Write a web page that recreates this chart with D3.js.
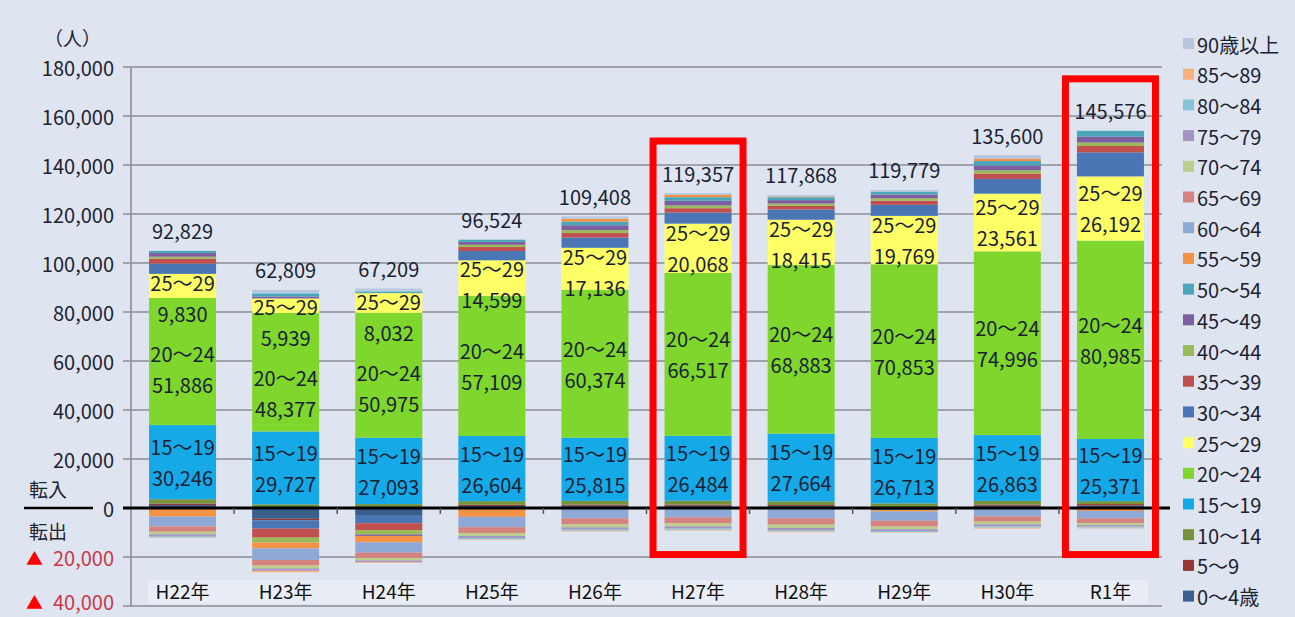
<!DOCTYPE html>
<html>
<head>
<meta charset="utf-8">
<script src="https://cdn.jsdelivr.net/npm/d3@7"></script>
<style>
    body { margin: 0; background: #dfe5f0; }
    svg { display: block; font-family: "Noto Sans CJK JP", "Noto Sans", sans-serif; }
</style>
</head>
<body>
<svg width="1295" height="617"></svg>
<script>
// years on the x axis
const years = ['H22年', 'H23年', 'H24年', 'H25年', 'H26年', 'H27年', 'H28年', 'H29年', 'H30年', 'R1年'];

// net migration per age group (転入超過 +, 転出超過 -)
const age0_4   = [1200, -4400, -3200, 800, 900, 900, 800, -800, 900, 1000];
const age5_9   = [600, -600, 400, 500, 500, 500, 400, 400, 500, 600];
const age10_14 = [1800, 1500, 1200, 1500, 1500, 1600, 1500, 1500, 1500, 1200];
const age15_19 = [30246, 29727, 27093, 26604, 25815, 26484, 27664, 26713, 26863, 25371];
const age20_24 = [51886, 48377, 50975, 57109, 60374, 66517, 68883, 70853, 74996, 80985];
const age25_29 = [9830, 5939, 8032, 14599, 17136, 20068, 18415, 19769, 23561, 26192];
const age30_34 = [4200, -3400, -3000, 3800, 4200, 4500, 4200, 4500, 6000, 9800];
const age35_39 = [2000, -3700, -2800, 1600, 1800, 1800, 1500, 1700, 2200, 2600];
const age40_44 = [800, -2000, -1800, 900, 1200, 1100, 900, 1000, 1300, 1400];
const age45_49 = [1500, 800, -600, 1200, 2000, 1900, 1400, 1500, 2000, 2400];
const age50_54 = [900, 1000, 600, 900, 1500, 1500, 1200, 1200, 1800, 2400];
const age55_59 = [-3500, -2400, -2600, -3600, 1100, 900, 300, -600, 900, -1200];
const age60_64 = [-4000, -4700, -4200, -4200, -4200, -3800, -4200, -3800, -3400, -3000];
const age65_69 = [-2200, -2300, -2200, -2400, -2500, -2500, -2600, -2400, -2200, -2000];
const age70_74 = [-1000, -1200, -1000, -1200, -1200, -1200, -1300, -1100, -1100, -800];
const age75_79 = [-700, -900, -700, -800, -900, -900, -900, -700, -800, -600];
const age80_84 = [-400, 500, 400, -450, -500, -500, -550, -400, -500, -400];
const age85_89 = [-250, -600, -300, -250, -300, -300, -350, -200, -400, -300];
const age90up  = [-150, 1200, 900, -100, 1000, 800, 600, 700, 1500, -100];

// net totals printed above each bar
const netTotals = [92829, 62809, 67209, 96524, 109408, 119357, 117868, 119779, 135600, 145576];

const ageNames = ['0～4歳', '5～9', '10～14', '15～19', '20～24', '25～29', '30～34', '35～39', '40～44',
    '45～49', '50～54', '55～59', '60～64', '65～69', '70～74', '75～79', '80～84', '85～89', '90歳以上'];
const ageValues = [age0_4, age5_9, age10_14, age15_19, age20_24, age25_29, age30_34, age35_39, age40_44,
    age45_49, age50_54, age55_59, age60_64, age65_69, age70_74, age75_79, age80_84, age85_89, age90up];
const ageColors = ['#3b5f8c', '#953735', '#77923c', '#16a9e8', '#7fd62c', '#ffff66', '#4a76b6', '#c0504d',
    '#9bbb59', '#7d5fa0', '#4aa6b8', '#f39244', '#8fa9d6', '#d4837f', '#bccf8a', '#a293c0', '#85c3d9',
    '#f8b07c', '#b8c6de'];

const highlighted = ['H27年', 'R1年'];

const svg = d3.select("svg");
const fmt = d3.format(",");

// table for d3.stack
const table = years.map((yr, i) => {
    const row = { year: yr };
    ageNames.forEach((name, k) => { row[name] = ageValues[k][i]; });
    return row;
});

const series = d3.stack()
    .keys(ageNames)
    .offset(d3.stackOffsetDiverging)(table);

const x = d3.scaleBand()
    .domain(years)
    .range([131, 1162])
    .paddingInner(0.35)
    .paddingOuter(0.175);

const y = d3.scaleLinear()
    .domain([-40000, 180000])
    .range([606, 67]);

const color = d3.scaleOrdinal().domain(ageNames).range(ageColors);
const gridTicks = d3.range(-40000, 180001, 20000);

// gridlines
svg.append("g").selectAll("line").data(gridTicks.filter(v => v !== 0)).enter()
    .append("line")
    .attr("x1", 123).attr("x2", 1162)
    .attr("y1", d => y(d)).attr("y2", d => y(d))
    .attr("stroke", "#8a8d96").attr("stroke-width", 1.6);

// y axis line
svg.append("line")
    .attr("x1", 131).attr("x2", 131)
    .attr("y1", y(180000)).attr("y2", y(-40000))
    .attr("stroke", "#8a8d96").attr("stroke-width", 1.6);

// category label strip
svg.append("rect")
    .attr("x", 148).attr("y", y(-29500))
    .attr("width", 1000).attr("height", y(-39000) - y(-29500))
    .attr("fill", "#e9edf5");

// bars
const layers = svg.append("g").selectAll("g").data(series).enter()
    .append("g").attr("fill", d => color(d.key));

layers.selectAll("rect").data(d => d).enter()
    .append("rect")
    .attr("x", d => x(d.data.year))
    .attr("width", x.bandwidth())
    .attr("y", d => y(Math.max(d[0], d[1])))
    .attr("height", d => Math.abs(y(d[0]) - y(d[1])));

// zero line
svg.append("line")
    .attr("x1", 123).attr("x2", 1170)
    .attr("y1", y(0)).attr("y2", y(0))
    .attr("stroke", "#000").attr("stroke-width", 3);

// category ticks on the zero line
svg.append("g").selectAll("line").data(years.slice(1)).enter()
    .append("line")
    .attr("x1", d => x(d) - x.step() * x.paddingInner() / 2)
    .attr("x2", d => x(d) - x.step() * x.paddingInner() / 2)
    .attr("y1", y(0)).attr("y2", y(0) + 6)
    .attr("stroke", "#555").attr("stroke-width", 1.5);

// y tick labels
const yLabels = svg.append("g").selectAll("text").data(gridTicks).enter()
    .append("text")
    .attr("x", 114)
    .attr("y", d => Math.min(y(d), 601))
    .attr("text-anchor", "end")
    .attr("dominant-baseline", "central")
    .attr("font-size", 20)
    .attr("fill", "#1e2230");

yLabels.filter(d => d >= 0).text(d => fmt(d));
yLabels.filter(d => d < 0).each(function (d) {
    const t = d3.select(this);
    t.append("tspan").attr("fill", "#ff0000").attr("font-size", 17).text("▲");
    t.append("tspan").attr("dx", 10).attr("fill", "#c8384a").text(fmt(-d));
});

// unit and 転入 / 転出
svg.append("text").attr("x", 44).attr("y", 37)
    .attr("dominant-baseline", "central").attr("font-size", 19).attr("fill", "#1e2230")
    .text("（人）");
svg.append("text").attr("x", 48).attr("y", y(0) - 20)
    .attr("text-anchor", "middle").attr("dominant-baseline", "central")
    .attr("font-size", 19).attr("fill", "#1e2230").text("転入");
svg.append("text").attr("x", 48).attr("y", y(0) + 22)
    .attr("text-anchor", "middle").attr("dominant-baseline", "central")
    .attr("font-size", 19).attr("fill", "#1e2230").text("転出");
svg.append("line")
    .attr("x1", 24).attr("x2", 93)
    .attr("y1", y(0)).attr("y2", y(0))
    .attr("stroke", "#000").attr("stroke-width", 2.5);

// category labels
svg.append("g").selectAll("text").data(years).enter()
    .append("text")
    .attr("x", d => x(d) + x.bandwidth() / 2)
    .attr("y", y(-33500))
    .attr("text-anchor", "middle")
    .attr("dominant-baseline", "central")
    .attr("font-size", 19)
    .attr("fill", "#111")
    .text(d => d);

// data labels inside the bars (15-19, 20-24, 25-29)
const segOf = name => series.find(s => s.key === name);
const s15 = segOf('15～19'), s20 = segOf('20～24'), s25 = segOf('25～29');
const labelData = [];
years.forEach((yr, i) => {
    const top25 = y(s25[i][1]), bot25 = y(s25[i][0]);
    const c25 = Math.max((top25 + bot25) / 2, top25 + 24);
    const c20 = Math.max((y(s20[i][1]) + y(s20[i][0])) / 2, c25 + 71);
    const c15 = (y(s15[i][1]) + y(s15[i][0])) / 2;
    labelData.push({ year: yr, cy: c25, name: '25～29', value: age25_29[i] });
    labelData.push({ year: yr, cy: c20, name: '20～24', value: age20_24[i] });
    labelData.push({ year: yr, cy: c15, name: '15～19', value: age15_19[i] });
});

const lbl = svg.append("g").selectAll("g").data(labelData).enter().append("g")
    .attr("transform", d => `translate(${x(d.year) + x.bandwidth() / 2},${d.cy})`);
lbl.append("text").attr("y", -15.5)
    .attr("text-anchor", "middle").attr("dominant-baseline", "central")
    .attr("font-size", 20).attr("fill", "#1a1f33")
    .text(d => d.name);
lbl.append("text").attr("y", 15.5)
    .attr("text-anchor", "middle").attr("dominant-baseline", "central")
    .attr("font-size", 20).attr("fill", "#1a1f33")
    .text(d => fmt(d.value));

// net totals above the bars
const topOf = i => d3.max(series, s => s[i][1]);
svg.append("g").selectAll("text").data(years).enter()
    .append("text")
    .attr("x", d => x(d) + x.bandwidth() / 2)
    .attr("y", (d, i) => y(topOf(i)) - 20)
    .attr("text-anchor", "middle")
    .attr("dominant-baseline", "central")
    .attr("font-size", 20)
    .attr("fill", "#1a1f33")
    .text((d, i) => fmt(netTotals[i]));

// red highlight boxes
svg.append("g").selectAll("rect").data(highlighted).enter()
    .append("rect")
    .attr("x", d => x(d) + x.bandwidth() / 2 - 45)
    .attr("width", 90)
    .attr("y", d => y(topOf(years.indexOf(d))) - 52)
    .attr("height", d => y(-19000) - y(topOf(years.indexOf(d))) + 52)
    .attr("fill", "none")
    .attr("stroke", "#ff0000")
    .attr("stroke-width", 7);

// legend (top series first)
const legend = svg.append("g").selectAll("g").data(ageNames.slice().reverse()).enter()
    .append("g")
    .attr("transform", (d, i) => `translate(1183,${44 + i * 30.7})`);
legend.append("rect")
    .attr("x", 0).attr("y", -6)
    .attr("width", 11).attr("height", 11)
    .attr("fill", d => color(d));
legend.append("text")
    .attr("x", 14).attr("y", 0)
    .attr("dominant-baseline", "central")
    .attr("font-size", 20)
    .attr("fill", "#1e2230")
    .text(d => d);
</script>
</body>
</html>
